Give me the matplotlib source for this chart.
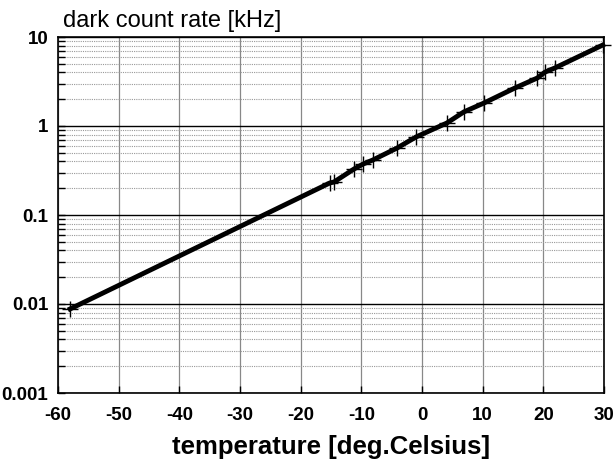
import matplotlib
matplotlib.use("Agg")
import matplotlib.pyplot as plt
from matplotlib.ticker import LogLocator, FixedLocator, NullFormatter

temperature = [-58.0, -15.2, -14.5, -11.2, -9.7, -8.1, -4.1, -1.0, 4.1, 6.9,
               10.2, 15.3, 19.0, 20.3, 21.9, 29.8]
dark_rate = [0.0088, 0.229, 0.235, 0.329, 0.374, 0.415, 0.566, 0.752, 1.08, 1.44,
             1.81, 2.67, 3.46, 4.04, 4.49, 8.13]
xticks = [-60, -50, -40, -30, -20, -10, 0, 10, 20, 30]
yticks = [0.001, 0.01, 0.1, 1, 10]
ytick_labels = ["0.001", "0.01", "0.1", "1", "10"]

plt.rcParams['font.family'] = ['Liberation Sans', 'DejaVu Sans']
fig = plt.figure(figsize=(6.16, 4.63), dpi=100)
ax = fig.add_axes([58/616, 1-393/463, (604-58)/616, (393-37)/463])

ax.set_yscale('log')
ax.set_xlim(-60, 30)
ax.set_ylim(0.001, 10)

ax.xaxis.set_major_locator(FixedLocator(xticks))
ax.set_xticklabels([str(t) for t in xticks], fontsize=13.5, fontweight='bold')
ax.yaxis.set_major_locator(FixedLocator(yticks))
ax.set_yticklabels(ytick_labels, fontsize=13.5, fontweight='bold')
ax.yaxis.set_minor_locator(LogLocator(base=10, subs=range(2, 10)))
ax.yaxis.set_minor_formatter(NullFormatter())

ax.grid(True, which='major', axis='x', color='#888888', lw=0.9)
ax.grid(True, which='major', axis='y', color='black', lw=1.0)
ax.grid(True, which='minor', axis='y', color='#999999', lw=0.8, ls=(0, (1, 1)))

ax.tick_params(axis='both', which='major', direction='in', length=5, width=1)
ax.tick_params(axis='y', which='major', pad=7)
ax.tick_params(axis='y', which='minor', direction='in', length=5, width=1)
ax.tick_params(axis='x', which='major', pad=10)

for s in ax.spines.values():
    s.set_color('black')
    s.set_linewidth(1.2)

ax.plot(temperature, dark_rate, color='black', lw=3.5, marker='+',
        markersize=11, markeredgewidth=1.0, zorder=5, clip_on=False)

fig.text(63/616, 1-27/463, 'dark count rate [kHz]', fontsize=17, ha='left',
         va='baseline')
ax.set_xlabel('temperature [deg.Celsius]', fontsize=18.5, fontweight='bold',
              labelpad=8)

fig.savefig('out.png', dpi=100)
